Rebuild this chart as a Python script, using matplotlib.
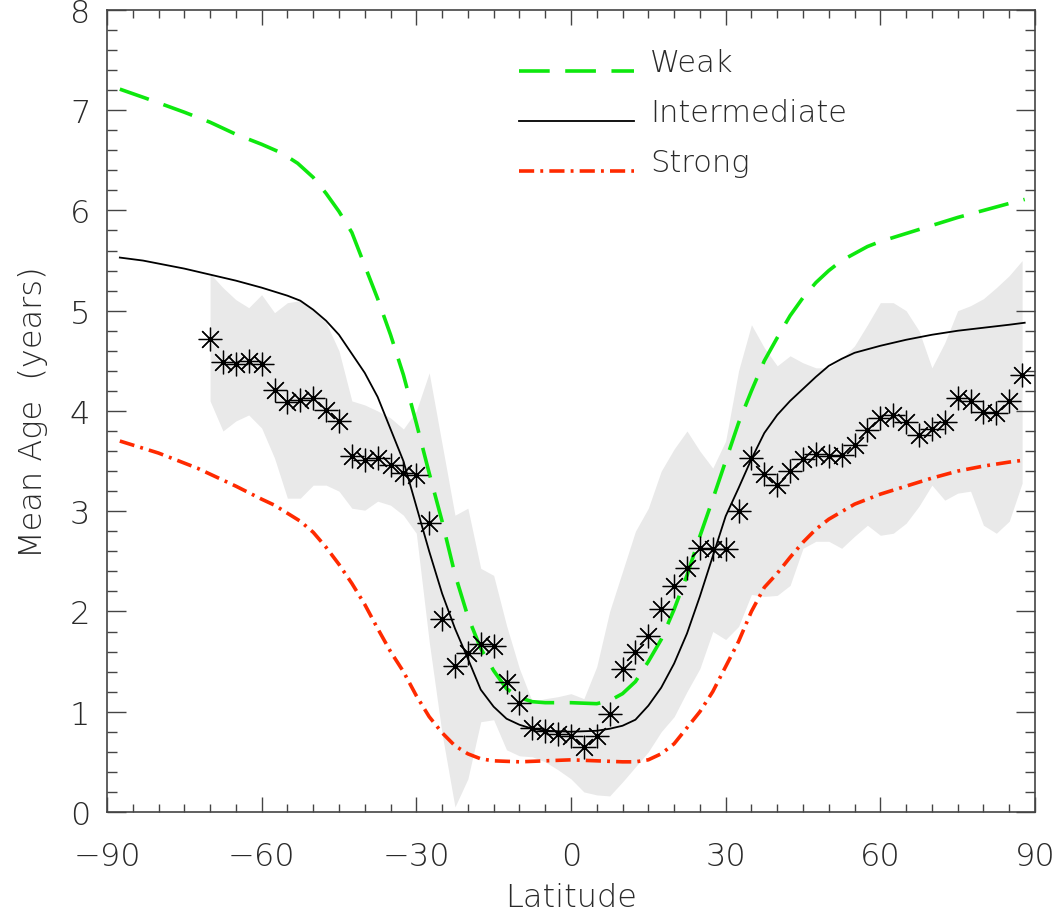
import matplotlib
matplotlib.use("Agg")
import matplotlib.pyplot as plt
from matplotlib.ticker import MultipleLocator

# observed mean age (asterisks) and its spread, every 2.5 degrees
obs_lat = [-70, -67.5, -65, -62.5, -60, -57.5, -55, -52.5, -50, -47.5, -45, -42.5,
           -40, -37.5, -35, -32.5, -30, -27.5, -25, -22.5, -20, -17.5, -15, -12.5,
           -10, -7.5, -5, -2.5, 0, 2.5, 5, 7.5, 10, 12.5, 15, 17.5, 20, 22.5, 25,
           27.5, 30, 32.5, 35, 37.5, 40, 42.5, 45, 47.5, 50, 52.5, 55, 57.5, 60,
           62.5, 65, 67.5, 70, 72.5, 75, 77.5, 80, 82.5, 85, 87.5]
obs_age = [4.72, 4.49, 4.47, 4.50, 4.47, 4.21, 4.09, 4.11, 4.13, 4.01, 3.90, 3.55,
           3.51, 3.53, 3.46, 3.38, 3.36, 2.88, 1.92, 1.46, 1.59, 1.68, 1.66, 1.30,
           1.09, 0.84, 0.81, 0.78, 0.76, 0.65, 0.76, 0.98, 1.43, 1.60, 1.76, 2.02,
           2.25, 2.43, 2.63, 2.62, 2.62, 3.00, 3.53, 3.37, 3.26, 3.40, 3.52, 3.57,
           3.55, 3.56, 3.66, 3.81, 3.93, 3.96, 3.89, 3.76, 3.82, 3.89, 4.13, 4.10,
           3.99, 3.98, 4.10, 4.36]
obs_hi = [5.37, 5.23, 5.11, 5.03, 5.16, 4.98, 5.08, 5.10, 5.00, 4.88, 4.60, 4.10,
          4.06, 4.00, 3.93, 3.82, 4.00, 4.38, 3.67, 2.96, 3.03, 2.43, 2.36, 1.86,
          1.43, 1.10, 1.13, 1.15, 1.18, 1.13, 1.45, 2.00, 2.40, 2.80, 3.03, 3.40,
          3.62, 3.80, 3.60, 3.43, 3.70, 4.40, 4.86, 4.63, 4.45, 4.55, 4.48, 4.43,
          4.43, 4.52, 4.65, 4.86, 5.08, 5.08, 5.00, 4.80, 4.43, 4.68, 5.00, 5.05,
          5.12, 5.23, 5.35, 5.50]
obs_lo = [4.10, 3.80, 3.90, 3.96, 3.83, 3.53, 3.13, 3.13, 3.26, 3.26, 3.20, 3.03,
          3.01, 3.10, 3.06, 2.96, 2.78, 1.70, 0.78, 0.05, 0.33, 0.90, 0.92, 0.62,
          0.56, 0.55, 0.50, 0.42, 0.33, 0.20, 0.17, 0.16, 0.30, 0.45, 0.60, 0.80,
          0.95, 1.20, 1.43, 1.80, 1.72, 1.85, 2.17, 2.15, 2.16, 2.26, 2.63, 2.70,
          2.70, 2.63, 2.75, 2.86, 2.76, 2.78, 2.88, 3.05, 3.26, 3.11, 3.18, 3.20,
          2.86, 2.78, 2.90, 3.28]

# model curves
weak_lat = [-87.5, -82.5, -75, -70, -65, -60, -56, -53, -50, -47.5, -45, -42.5,
            -40, -37.5, -35, -32.5, -30, -27.5, -25, -22.5, -20, -17.5, -15,
            -12.5, -10, -7.5, -5, 0, 5, 7.5, 10, 12.5, 15, 17.5, 20, 22.5, 25,
            27.5, 30, 32.5, 35, 37.5, 40, 42.5, 45, 47.5, 50, 52.5, 55, 57.5, 60,
            65, 70, 75, 80, 85, 88]
weak_age = [7.21, 7.12, 6.98, 6.88, 6.76, 6.66, 6.57, 6.47, 6.33, 6.17, 5.99, 5.78,
            5.45, 5.12, 4.76, 4.36, 3.88, 3.38, 2.90, 2.37, 1.95, 1.63, 1.41,
            1.23, 1.14, 1.10, 1.09, 1.09, 1.08, 1.11, 1.18, 1.30, 1.50, 1.72, 2.02,
            2.36, 2.75, 3.12, 3.50, 3.88, 4.20, 4.50, 4.73, 4.95, 5.13, 5.28, 5.40,
            5.50, 5.57, 5.64, 5.69, 5.77, 5.85, 5.93, 6.00, 6.07, 6.11]

mid_lat = [-87.5, -83, -75, -70, -65, -60, -55, -52.5, -50, -47.5, -45, -42.5,
           -40, -37.5, -35, -32.5, -30, -27.5, -25, -22.5, -20, -17.5, -15, -12.5,
           -10, -7.5, -5, 0, 5, 7.5, 10, 12.5, 15, 17.5, 20, 22.5, 25, 27.5, 30,
           32.5, 35, 37.5, 40, 42.5, 45, 47.5, 50, 52.5, 55, 60, 65, 70, 75, 80,
           85, 88]
mid_age = [5.53, 5.50, 5.42, 5.36, 5.30, 5.23, 5.15, 5.10, 5.01, 4.90, 4.76, 4.57,
           4.38, 4.14, 3.82, 3.50, 3.05, 2.60, 2.18, 1.83, 1.53, 1.22, 1.05, 0.93,
           0.87, 0.83, 0.81, 0.80, 0.81, 0.83, 0.86, 0.92, 1.06, 1.24, 1.48, 1.78,
           2.15, 2.55, 2.95, 3.23, 3.52, 3.78, 3.96, 4.10, 4.22, 4.34, 4.45, 4.52,
           4.58, 4.65, 4.71, 4.76, 4.80, 4.83, 4.86, 4.88]

strong_lat = [-87.5, -80, -72.5, -65, -60, -57.5, -55, -52.5, -50, -47.5, -45,
              -42.5, -40, -37.5, -35, -32.5, -30, -27.5, -25, -22.5, -20, -17.5,
              -15, -10, -5, 0, 5, 10, 12.5, 15, 17.5, 20, 22.5, 25, 27.5, 30, 32.5,
              35, 37.5, 40, 42.5, 45, 47.5, 50, 55, 60, 65, 70, 75, 80, 85, 88]
strong_age = [3.70, 3.58, 3.43, 3.25, 3.12, 3.06, 2.98, 2.90, 2.79, 2.64, 2.47,
              2.28, 2.07, 1.83, 1.60, 1.40, 1.16, 0.95, 0.79, 0.66, 0.58, 0.53,
              0.51, 0.50, 0.51, 0.52, 0.51, 0.50, 0.50, 0.52, 0.58, 0.68, 0.84,
              1.00, 1.20, 1.45, 1.70, 2.00, 2.24, 2.38, 2.54, 2.69, 2.82, 2.92,
              3.07, 3.17, 3.25, 3.33, 3.40, 3.45, 3.49, 3.51]

GREEN = "#0ee80e"
RED = "#ff2a00"
TXT = "#2a2a2a"
FS = 23

plt.rcParams["font.family"] = "DejaVu Sans"

fig = plt.figure(figsize=(10.61, 9.12), dpi=100)
ax = fig.add_axes([0.1008, 0.1086, 0.8747, 0.8794])

ax.fill_between(obs_lat, obs_lo, obs_hi, color="#e9e9e9", lw=0, zorder=1)

ax.plot(weak_lat, weak_age, color=GREEN, lw=2.6, dashes=(8.5, 4.3), zorder=3)
ax.plot(mid_lat, mid_age, color="black", lw=1.3, zorder=3)
ax.plot(strong_lat, strong_age, color=RED, lw=2.6, dashes=(4.2, 1.7, 0.8, 1.7), zorder=3)

ax.plot(obs_lat, obs_age, ls="none", marker=(8, 2, 0), ms=17, mew=0.9,
        mec="black", zorder=4)

# legend drawn by hand
leg = [("Weak", GREEN, 2.6, (8.5, 4.3)),
       ("Intermediate", "black", 1.3, None),
       ("Strong", RED, 2.6, (4.2, 1.7, 0.8, 1.7))]
for i, (name, col, lw, ds) in enumerate(leg):
    y = 0.924 - i * 0.0625
    ln, = ax.plot([0.444, 0.568], [y, y], transform=ax.transAxes, color=col, lw=lw)
    if ds:
        ln.set_dashes(ds)
    ax.text(0.585, y, name, transform=ax.transAxes, fontsize=FS - 1,
            color=TXT, va="baseline", ha="left", fontweight=200)

ax.set_xlim(-90, 90)
ax.set_ylim(0, 8)
ax.set_xticks([-90, -60, -30, 0, 30, 60, 90])
ax.xaxis.set_minor_locator(MultipleLocator(5))
ax.yaxis.set_major_locator(MultipleLocator(1))
ax.yaxis.set_minor_locator(MultipleLocator(0.2))

ax.tick_params(which="both", direction="in", top=True, right=True,
               colors="#444444", labelcolor=TXT, labelsize=FS)
ax.tick_params(axis="x", which="major", length=11, width=1, pad=21)
ax.tick_params(axis="x", which="minor", length=6, width=1)
ax.tick_params(axis="y", which="major", length=13.5, width=1, pad=12)
ax.tick_params(axis="y", which="minor", length=7, width=1)
for lab in ax.get_xticklabels() + ax.get_yticklabels():
    lab.set_fontweight(200)
for sp in ax.spines.values():
    sp.set_color("#444444")
    sp.set_linewidth(1.2)

ax.set_xlabel("Latitude", fontsize=FS, color=TXT, fontweight=200, labelpad=8)
ax.set_ylabel("Mean Age  (years)", fontsize=FS, color=TXT, fontweight=200, labelpad=16)

fig.savefig("out.png", dpi=100)
